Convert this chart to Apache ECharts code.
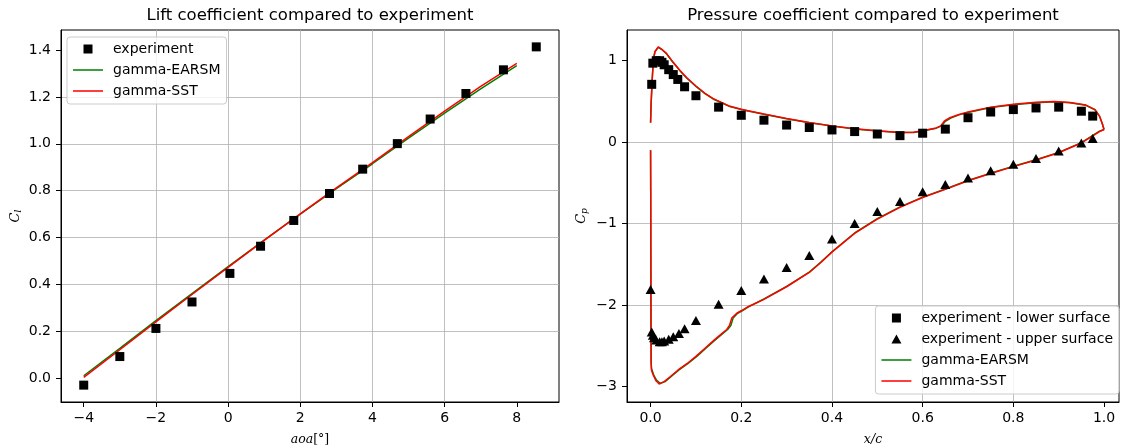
<!DOCTYPE html>
<html>
<head>
<meta charset="utf-8">
<script src="https://cdn.jsdelivr.net/npm/echarts@6/dist/echarts.min.js"></script>
<style>html,body{margin:0;padding:0;background:#fff;}#chart{width:1122px;height:447px;}</style>
</head>
<body>
<div id="chart"></div>
<script>
// ---- Lift coefficient data ----
const aoaExp = [-4, -3, -2, -1, 0.05, 0.9, 1.82, 2.81, 3.73, 4.69, 5.6, 6.59, 7.63, 8.54];
const clExp  = [-0.03, 0.092, 0.212, 0.325, 0.447, 0.563, 0.673, 0.788, 0.892, 1.001, 1.106, 1.215, 1.316, 1.414];
const aoaCfd = [-4, -3, -2, -1, 0, 1, 2, 3, 4, 5, 6, 7, 8];
const clEARSM = [0.010, 0.127, 0.245, 0.361, 0.476, 0.589, 0.700, 0.809, 0.915, 1.024, 1.131, 1.235, 1.334];
const clSST   = [0.003, 0.121, 0.240, 0.357, 0.473, 0.588, 0.701, 0.812, 0.920, 1.031, 1.140, 1.245, 1.344];

// ---- Pressure coefficient data ----
const xcLowerExp = [0.0025, 0.005, 0.0125, 0.02, 0.025, 0.03, 0.04, 0.05, 0.06, 0.075, 0.1, 0.15, 0.2, 0.25, 0.3, 0.35, 0.4, 0.45, 0.5, 0.55, 0.6, 0.65, 0.7, 0.75, 0.8, 0.85, 0.9, 0.95, 0.975];
const cpLowerExp = [0.71, 0.97, 1.0, 1.0, 0.98, 0.95, 0.89, 0.83, 0.77, 0.68, 0.57, 0.43, 0.33, 0.27, 0.21, 0.18, 0.15, 0.13, 0.10, 0.08, 0.11, 0.16, 0.30, 0.37, 0.40, 0.42, 0.43, 0.38, 0.32];
const xcUpperExp = [0.0, 0.0025, 0.005, 0.0075, 0.0125, 0.02, 0.025, 0.03, 0.04, 0.05, 0.0625, 0.075, 0.1, 0.15, 0.2, 0.25, 0.3, 0.35, 0.4, 0.45, 0.5, 0.55, 0.6, 0.65, 0.7, 0.75, 0.8, 0.85, 0.9, 0.95, 0.975];
const cpUpperExp = [-1.81, -2.33, -2.37, -2.40, -2.43, -2.45, -2.45, -2.44, -2.42, -2.39, -2.35, -2.29, -2.19, -1.99, -1.82, -1.68, -1.54, -1.39, -1.19, -1.00, -0.85, -0.73, -0.61, -0.52, -0.44, -0.35, -0.27, -0.20, -0.11, -0.01, 0.045];

const xcLowerSST = [0, 0.001, 0.0035, 0.006, 0.0095, 0.017, 0.025, 0.035, 0.05, 0.065, 0.08, 0.1, 0.12, 0.138, 0.16, 0.175, 0.2, 0.215, 0.25, 0.3, 0.35, 0.4, 0.45, 0.5, 0.55, 0.58, 0.6, 0.63, 0.64, 0.648, 0.66, 0.68, 0.7, 0.75, 0.8, 0.85, 0.89, 0.925, 0.96, 0.98, 0.99, 0.996, 1.0];
const cpLowerSST = [0.24, 0.45, 0.76, 1.0, 1.11, 1.17, 1.14, 1.09, 0.98, 0.88, 0.79, 0.69, 0.60, 0.535, 0.48, 0.44, 0.405, 0.385, 0.345, 0.29, 0.24, 0.20, 0.165, 0.14, 0.12, 0.122, 0.14, 0.175, 0.20, 0.26, 0.30, 0.34, 0.37, 0.43, 0.465, 0.49, 0.50, 0.487, 0.455, 0.40, 0.32, 0.23, 0.155];
const xcUpperSST = [0, 0.0003, 0.0006, 0.0009, 0.0012, 0.002, 0.006, 0.012, 0.019, 0.03, 0.043, 0.06, 0.08, 0.1, 0.12, 0.14, 0.155, 0.168, 0.174, 0.179, 0.19, 0.2, 0.215, 0.25, 0.3, 0.35, 0.375, 0.4, 0.45, 0.5, 0.55, 0.6, 0.65, 0.7, 0.75, 0.8, 0.85, 0.9, 0.95, 0.97, 0.99, 1.0];
const cpUpperSST = [-0.10, -0.6, -1.4, -2.2, -2.7, -2.80, -2.86, -2.93, -2.97, -2.94, -2.88, -2.80, -2.72, -2.63, -2.53, -2.43, -2.36, -2.30, -2.25, -2.16, -2.10, -2.07, -2.02, -1.93, -1.775, -1.60, -1.48, -1.35, -1.12, -0.945, -0.80, -0.68, -0.58, -0.474, -0.385, -0.30, -0.22, -0.13, -0.01, 0.06, 0.13, 0.155];

const xcLowerEARSM = [0, 0.001, 0.0035, 0.006, 0.0095, 0.017, 0.025, 0.035, 0.05, 0.065, 0.08, 0.1, 0.12, 0.138, 0.16, 0.175, 0.2, 0.215, 0.25, 0.3, 0.35, 0.4, 0.45, 0.5, 0.55, 0.58, 0.6, 0.63, 0.642, 0.65, 0.662, 0.68, 0.7, 0.75, 0.8, 0.85, 0.89, 0.925, 0.96, 0.98, 0.99, 0.996, 1.0];
const cpLowerEARSM = [0.24, 0.45, 0.76, 1.0, 1.11, 1.165, 1.135, 1.085, 0.975, 0.875, 0.785, 0.685, 0.595, 0.53, 0.475, 0.437, 0.402, 0.382, 0.342, 0.287, 0.238, 0.198, 0.163, 0.138, 0.118, 0.12, 0.137, 0.172, 0.20, 0.255, 0.295, 0.335, 0.365, 0.425, 0.46, 0.485, 0.495, 0.483, 0.452, 0.398, 0.318, 0.228, 0.155];
const xcUpperEARSM = [0, 0.0003, 0.0006, 0.0009, 0.0012, 0.002, 0.007, 0.013, 0.021, 0.032, 0.045, 0.062, 0.082, 0.102, 0.122, 0.142, 0.157, 0.17, 0.177, 0.182, 0.192, 0.202, 0.217, 0.25, 0.3, 0.35, 0.375, 0.4, 0.45, 0.5, 0.55, 0.6, 0.65, 0.7, 0.75, 0.8, 0.85, 0.9, 0.95, 0.97, 0.99, 1.0];
const cpUpperEARSM = [-0.10, -0.6, -1.4, -2.2, -2.7, -2.78, -2.86, -2.92, -2.96, -2.94, -2.88, -2.80, -2.72, -2.63, -2.53, -2.43, -2.36, -2.30, -2.25, -2.16, -2.10, -2.07, -2.02, -1.925, -1.77, -1.595, -1.475, -1.345, -1.115, -0.94, -0.795, -0.675, -0.575, -0.47, -0.38, -0.295, -0.215, -0.125, -0.005, 0.065, 0.135, 0.155];

// ---- tick labels ----
const ticksAoa = [-4, -2, 0, 2, 4, 6, 8];
const ticksCl = [0.0, 0.2, 0.4, 0.6, 0.8, 1.0, 1.2, 1.4];
const ticksXc = [0.0, 0.2, 0.4, 0.6, 0.8, 1.0];
const ticksCp = [-3, -2, -1, 0, 1];

const zip = (a, b) => a.map((v, i) => [v, b[i]]);
const minus = s => String(s).replace('-', '\u2212');

const FONT = 'DejaVu Sans';
const GRID_COLOR = '#b0b0b0';

// legend icons (bounding box 35 x 9 so they keep their size and position)
const ICON_SQUARE = 'path://M10.5,0H19.5V9H10.5Z M0,0L0,0.01 M35,0L35,0.01';
const ICON_TRI = 'path://M15,0L20,9L10,9Z M0,0L0,0.01 M35,0L35,0.01';
const ICON_LINE = 'path://M0,3.75H30V5.25H0Z M0,0L0,0.01 M35,9L35,9.01';

function valueAxis(gridIndex, min, max, splitNumber, ticks, fmt, margin, extra) {
  return Object.assign({
    type: 'value', gridIndex, min, max, splitNumber,
    axisLine: { show: true, onZero: false, lineStyle: { color: '#000', width: 1 } },
    axisTick: { show: true, length: 5, lineStyle: { color: '#000', width: 1 }, customValues: ticks },
    axisLabel: { color: '#000', fontFamily: FONT, fontSize: 14, margin, customValues: ticks, formatter: fmt },
    splitLine: { show: true, showMinLine: false, showMaxLine: false, lineStyle: { color: GRID_COLOR, width: 0.8 } }
  }, extra || {});
}

const nameStyle = {
  fontFamily: 'DejaVu Serif', fontStyle: 'italic', fontSize: 12.5, color: '#000'
};
const subRich = {
  c: Object.assign({}, nameStyle, { fontSize: 13, lineHeight: 15 }),
  s: Object.assign({}, nameStyle, { fontSize: 9, verticalAlign: 'bottom', lineHeight: 11 })
};

function legendCfg(data, pos) {
  return Object.assign({
    data, orient: 'vertical', itemWidth: 35, itemHeight: 9, itemGap: 7,
    padding: [5, 6, 6, 6], selectedMode: false, symbolKeepAspect: true,
    backgroundColor: 'rgba(255,255,255,0.8)', borderColor: '#cccccc', borderWidth: 1, borderRadius: 3,
    textStyle: { fontFamily: FONT, fontSize: 14, lineHeight: 14, color: '#000' }
  }, pos);
}

const option = {
  animation: false,
  backgroundColor: '#fff',
  title: [
    { text: 'Lift coefficient compared to experiment', left: 310, top: 7, textAlign: 'center', padding: 0,
      textStyle: { fontFamily: FONT, fontSize: 16.5, fontWeight: 'normal', color: '#000' } },
    { text: 'Pressure coefficient compared to experiment', left: 873, top: 7, textAlign: 'center', padding: 0,
      textStyle: { fontFamily: FONT, fontSize: 16.5, fontWeight: 'normal', color: '#000' } }
  ],
  grid: [
    { left: 61, right: 563, top: 30, bottom: 45, show: true, borderColor: '#000', borderWidth: 1,
      containLabel: false, outerBoundsMode: 'none' },
    { left: 627, right: 3, top: 30, bottom: 45, show: true, borderColor: '#000', borderWidth: 1,
      containLabel: false, outerBoundsMode: 'none' }
  ],
  xAxis: [
    valueAxis(0, -4.63, 9.17, 7, ticksAoa, v => minus(v), 9, {
      name: '{i|aoa}{n|[°]}', nameLocation: 'middle', nameGap: 31,
      nameTextStyle: { rich: { i: nameStyle, n: Object.assign({}, nameStyle, { fontStyle: 'normal' }) } }
    }),
    valueAxis(1, -0.052, 1.033, 5, ticksXc, v => v.toFixed(1), 9, {
      name: 'x/c', nameLocation: 'middle', nameGap: 31, nameTextStyle: nameStyle
    })
  ],
  yAxis: [
    valueAxis(0, -0.102, 1.486, 8, ticksCl, v => v.toFixed(1), 10, {
      name: '{c|C}{s|l}', nameLocation: 'middle', nameGap: 38, nameRotate: 90,
      nameTextStyle: { rich: subRich }
    }),
    valueAxis(1, -3.19, 1.377, 5, ticksCp, v => minus(v), 10, {
      name: '{c|C}{s|p}', nameLocation: 'middle', nameGap: 38, nameRotate: 90,
      nameTextStyle: { rich: subRich }
    })
  ],
  legend: [
    legendCfg([
      { name: 'experiment', icon: ICON_SQUARE },
      { name: 'gamma-EARSM', icon: ICON_LINE },
      { name: 'gamma-SST', icon: ICON_LINE }
    ], { left: 67, top: 37 }),
    legendCfg([
      { name: 'experiment - lower surface', icon: ICON_SQUARE },
      { name: 'experiment - upper surface', icon: ICON_TRI },
      { name: 'gamma-EARSM', icon: ICON_LINE },
      { name: 'gamma-SST', icon: ICON_LINE }
    ], { right: 3, bottom: 53 })
  ],
  series: [
    { name: 'gamma-EARSM', type: 'line', xAxisIndex: 0, yAxisIndex: 0, data: zip(aoaCfd, clEARSM),
      symbol: 'none', lineStyle: { color: '#008000', width: 1.5 }, itemStyle: { color: '#008000' } },
    { name: 'gamma-SST', type: 'line', xAxisIndex: 0, yAxisIndex: 0, data: zip(aoaCfd, clSST),
      symbol: 'none', lineStyle: { color: '#ff0000', width: 1.5 }, itemStyle: { color: '#ff0000' } },
    { name: 'experiment', type: 'scatter', xAxisIndex: 0, yAxisIndex: 0, data: zip(aoaExp, clExp),
      symbol: 'rect', symbolSize: 9, itemStyle: { color: '#000', opacity: 1 }, z: 5 },

    { name: 'gamma-EARSM', type: 'line', xAxisIndex: 1, yAxisIndex: 1, data: zip(xcLowerEARSM, cpLowerEARSM),
      symbol: 'none', lineStyle: { color: '#008000', width: 1.5 }, itemStyle: { color: '#008000' } },
    { name: 'gamma-EARSM', type: 'line', xAxisIndex: 1, yAxisIndex: 1, data: zip(xcUpperEARSM, cpUpperEARSM),
      symbol: 'none', lineStyle: { color: '#008000', width: 1.5 }, itemStyle: { color: '#008000' } },
    { name: 'gamma-SST', type: 'line', xAxisIndex: 1, yAxisIndex: 1, data: zip(xcLowerSST, cpLowerSST),
      symbol: 'none', lineStyle: { color: '#ff0000', width: 1.5 }, itemStyle: { color: '#ff0000' } },
    { name: 'gamma-SST', type: 'line', xAxisIndex: 1, yAxisIndex: 1, data: zip(xcUpperSST, cpUpperSST),
      symbol: 'none', lineStyle: { color: '#ff0000', width: 1.5 }, itemStyle: { color: '#ff0000' } },
    { name: 'experiment - lower surface', type: 'scatter', xAxisIndex: 1, yAxisIndex: 1, data: zip(xcLowerExp, cpLowerExp),
      symbol: 'rect', symbolSize: 9, itemStyle: { color: '#000', opacity: 1 }, z: 5 },
    { name: 'experiment - upper surface', type: 'scatter', xAxisIndex: 1, yAxisIndex: 1, data: zip(xcUpperExp, cpUpperExp),
      symbol: 'triangle', symbolSize: [10, 9], itemStyle: { color: '#000', opacity: 1 }, z: 5 }
  ]
};

const chart = echarts.init(document.getElementById('chart'), null, { renderer: 'canvas' });
chart.setOption(option);
</script>
</body>
</html>
